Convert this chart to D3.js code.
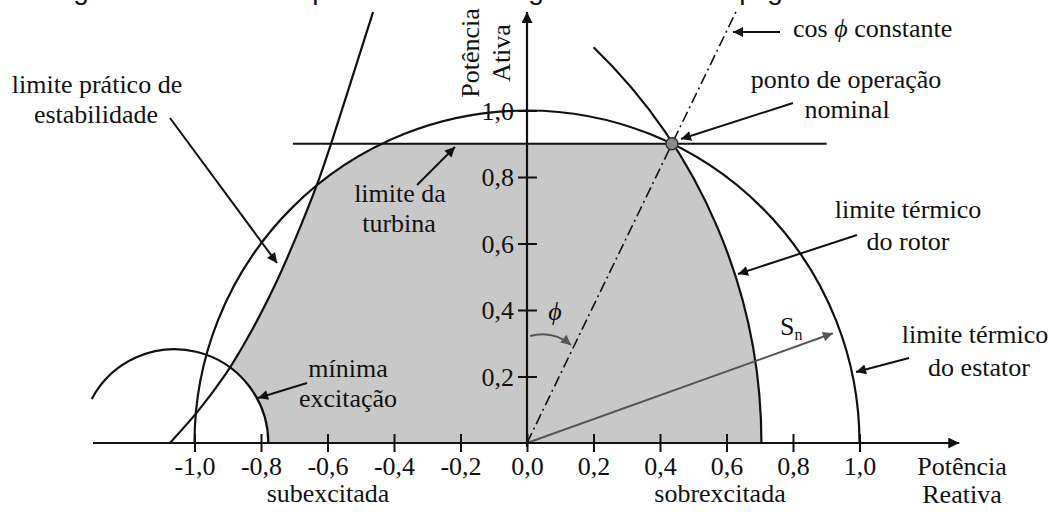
<!DOCTYPE html>
<html><head><meta charset="utf-8">
<script src="https://cdn.jsdelivr.net/npm/d3@7"></script>
<style>
body{margin:0;background:#fff}
</style>
</head><body>
<svg id="chart" width="1059" height="512"></svg>
<script>
// ---- data (per-unit values) ----
const xTickValues = [-1.0,-0.8,-0.6,-0.4,-0.2,0.0,0.2,0.4,0.6,0.8,1.0];
const xTickLabels = ["-1,0","-0,8","-0,6","-0,4","-0,2","0,0","0,2","0,4","0,6","0,8","1,0"];
const yTickValues = [0.2,0.4,0.6,0.8,1.0];
const yTickLabels = ["0,2","0,4","0,6","0,8","1,0"];
const statorLimit = {q:0, p:0, r:1.0};
const rotorLimit = {q:-0.95, p:0, r:1.655, pMax:1.19};
const minExcitation = {q:-1.06, p:0, r:0.282, angleMaxDeg:152};
const turbineLimit = {p:0.9, qMin:-0.704, qMax:0.901};
const operatingPoint = {q:0.436, p:0.9};
const cosPhiEnd = {q:0.63, p:1.30};
const snVector = {q:0.92, p:0.33};
const stabilityQ = [-1.074,-0.992,-0.908,-0.827,-0.758,-0.698,-0.632,-0.547,-0.463];
const stabilityP = [0.0,0.093,0.205,0.340,0.475,0.611,0.776,1.032,1.296];
// cropped caption line at the very top: only descenders remain visible
const captionGlyphs = ["g","p","g","p","g"];
const captionGlyphX = [81,320,536,747,775];

const FONT = "'Liberation Serif','DejaVu Serif','Times New Roman',serif";
const svg = d3.select("#chart");
const x = d3.scaleLinear().domain([-1,1]).range([194.5,859.5]);
const y = d3.scaleLinear().domain([0,1]).range([443,110.5]);
const unit = x(1)-x(0);

const defs = svg.append("defs");
function marker(id,color,w,h){
  defs.append("marker").attr("id",id).attr("viewBox","0 0 10 10").attr("refX",10).attr("refY",5)
    .attr("markerWidth",w).attr("markerHeight",h).attr("markerUnits","userSpaceOnUse").attr("orient","auto")
    .append("path").attr("d","M0,0 L10,5 L0,10 Z").attr("fill",color);
}
marker("ah","#111",14,10);
marker("ahg","#555",14,10);
marker("ax","#111",16,11);

function circlePath(c){ const p=d3.path(); p.arc(x(c.q),y(c.p),c.r*unit,0,2*Math.PI); p.closePath(); return p.toString(); }
const stabLine = d3.line().x(d=>x(d[0])).y(d=>y(d[1])).curve(d3.curveMonotoneY);
const stabPts = stabilityQ.map((q,i)=>[q,stabilityP[i]]);
defs.append("clipPath").attr("id","cStator").append("path").attr("d",circlePath(statorLimit));
defs.append("clipPath").attr("id","cRotor").append("path").attr("d",circlePath(rotorLimit));
defs.append("clipPath").attr("id","cBand").append("rect")
  .attr("x",0).attr("width",1059).attr("y",y(turbineLimit.p)).attr("height",y(0)-y(turbineLimit.p));
defs.append("clipPath").attr("id","cStab").append("path")
  .attr("d",stabLine(stabPts)+`L${x(3)},${y(1.5)}L${x(3)},${y(-0.5)}L${x(stabPts[0][0])},${y(-0.5)}Z`);
defs.append("clipPath").attr("id","cMin").append("path").attr("clip-rule","evenodd")
  .attr("d",`M0,0H1059V512H0Z`+circlePath(minExcitation));
let g = svg.append("g").attr("clip-path","url(#cStator)")
  .append("g").attr("clip-path","url(#cRotor)")
  .append("g").attr("clip-path","url(#cBand)")
  .append("g").attr("clip-path","url(#cStab)")
  .append("g").attr("clip-path","url(#cMin)");
g.append("rect").attr("x",0).attr("y",0).attr("width",1059).attr("height",512).attr("fill","#c8c8c8");

const lines = svg.append("g").attr("fill","none").attr("stroke","#111").attr("stroke-width",2.2);
{ const p=d3.path(); p.arc(x(statorLimit.q),y(statorLimit.p),statorLimit.r*unit,0,-Math.PI,true);
  lines.append("path").attr("d",p.toString()); }
{ const a=Math.asin(rotorLimit.pMax/rotorLimit.r); const p=d3.path();
  p.arc(x(rotorLimit.q),y(rotorLimit.p),rotorLimit.r*unit,0,-a,true);
  lines.append("path").attr("d",p.toString()); }
{ const p=d3.path(); p.arc(x(minExcitation.q),y(minExcitation.p),minExcitation.r*unit,0,-minExcitation.angleMaxDeg*Math.PI/180,true);
  lines.append("path").attr("d",p.toString()); }
lines.append("path").attr("d",stabLine(stabPts));
lines.append("line").attr("x1",x(turbineLimit.qMin)).attr("x2",x(turbineLimit.qMax))
  .attr("y1",y(turbineLimit.p)).attr("y2",y(turbineLimit.p));
lines.append("line").attr("x1",x(0)).attr("y1",y(0)).attr("x2",x(cosPhiEnd.q)).attr("y2",y(cosPhiEnd.p))
  .attr("stroke-width",1.6).attr("stroke-dasharray","11,4,2,4");
svg.append("line").attr("x1",x(0)).attr("y1",y(0)).attr("x2",x(snVector.q)).attr("y2",y(snVector.p))
  .attr("stroke","#555").attr("stroke-width",2).attr("marker-end","url(#ahg)");

const xAxis = d3.axisBottom(x).tickValues(xTickValues).tickFormat((d,i)=>xTickLabels[i]).tickSize(0);
const xa = svg.append("g").attr("transform",`translate(0,${y(0)})`).call(xAxis)
  .attr("font-family",FONT).attr("font-size",26);
xa.select(".domain").remove();
xa.selectAll(".tick line").attr("y1",-9).attr("y2",9).attr("stroke","#111").attr("stroke-width",2);
xa.selectAll(".tick text").attr("y",14).attr("dy","0.71em").attr("fill","#111");
svg.append("line").attr("x1",93).attr("x2",x(1.3)).attr("y1",y(0)).attr("y2",y(0))
  .attr("stroke","#111").attr("stroke-width",2.2).attr("marker-end","url(#ax)");

const yAxis = d3.axisLeft(y).tickValues(yTickValues).tickFormat((d,i)=>yTickLabels[i]).tickSize(0);
const ya = svg.append("g").attr("transform",`translate(${x(0)},0)`).call(yAxis)
  .attr("font-family",FONT).attr("font-size",26);
ya.select(".domain").remove();
ya.selectAll(".tick line").attr("x1",-9).attr("x2",10).attr("stroke","#111").attr("stroke-width",2);
ya.selectAll(".tick text").attr("x",-13).attr("dy","0.34em").attr("fill","#111");
svg.append("line").attr("x1",x(0)).attr("x2",x(0)).attr("y1",y(0)+4).attr("y2",12)
  .attr("stroke","#111").attr("stroke-width",2.2).attr("marker-end","url(#ax)");

svg.append("circle").attr("cx",x(operatingPoint.q)).attr("cy",y(operatingPoint.p)).attr("r",6)
  .attr("fill","#8a8a8a").attr("stroke","#333").attr("stroke-width",1.5);

svg.append("path").attr("d",`M${x(0)+3},336 Q553,330 571,345`).attr("fill","none")
  .attr("stroke","#555").attr("stroke-width",2).attr("marker-end","url(#ahg)");

const arrows = [
  [780,32,733,32],
  [793,103,681,139],
  [857,235,738,274],
  [909,358,856,372],
  [417,185,455,147],
  [170,118,277,263],
  [307,383,258,398]
];
svg.append("g").selectAll("line").data(arrows).join("line")
  .attr("x1",d=>d[0]).attr("y1",d=>d[1]).attr("x2",d=>d[2]).attr("y2",d=>d[3])
  .attr("stroke","#111").attr("stroke-width",2).attr("marker-end","url(#ah)");

svg.append("g").attr("font-family","'Liberation Sans',Arial,sans-serif").attr("font-size",28).attr("fill","#111")
  .selectAll("text").data(captionGlyphs).join("text")
  .attr("x",(d,i)=>captionGlyphX[i]).attr("y",-1).attr("text-anchor","middle").text(d=>d);

const txt = svg.append("g").attr("font-family",FONT).attr("font-size",26).attr("fill","#111");
const T = (t,xx,yy,anchor="middle")=>txt.append("text").attr("x",xx).attr("y",yy).attr("text-anchor",anchor).text(t);
const c = txt.append("text").attr("x",793).attr("y",37);
c.append("tspan").text("cos ");
c.append("tspan").attr("font-style","italic").text("\u03D5");
c.append("tspan").text(" constante");
T("ponto de operação",846,88); T("nominal",847,118);
T("limite térmico",908,218); T("do rotor",908,250);
T("limite térmico",975,343); T("do estator",979,376);
T("limite da",400,202); T("turbina",399,232);
T("limite prático de",97,93); T("estabilidade",96,123);
T("mínima",348,377); T("excitação",348,407);
T("subexcitada",328,502); T("sobrexcitada",720,502);
T("Potência",962,475); T("Reativa",962,503);
const sn = txt.append("text").attr("x",780).attr("y",335);
sn.append("tspan").text("S"); sn.append("tspan").attr("font-size",16).attr("dy",5).text("n");
txt.append("text").attr("x",555).attr("y",320).attr("text-anchor","middle").attr("font-style","italic").text("\u03D5");
txt.append("text").attr("transform","translate(479,53) rotate(-90)").attr("text-anchor","middle").text("Potência");
txt.append("text").attr("transform","translate(510,53) rotate(-90)").attr("text-anchor","middle").text("Ativa");
</script>
</body></html>
